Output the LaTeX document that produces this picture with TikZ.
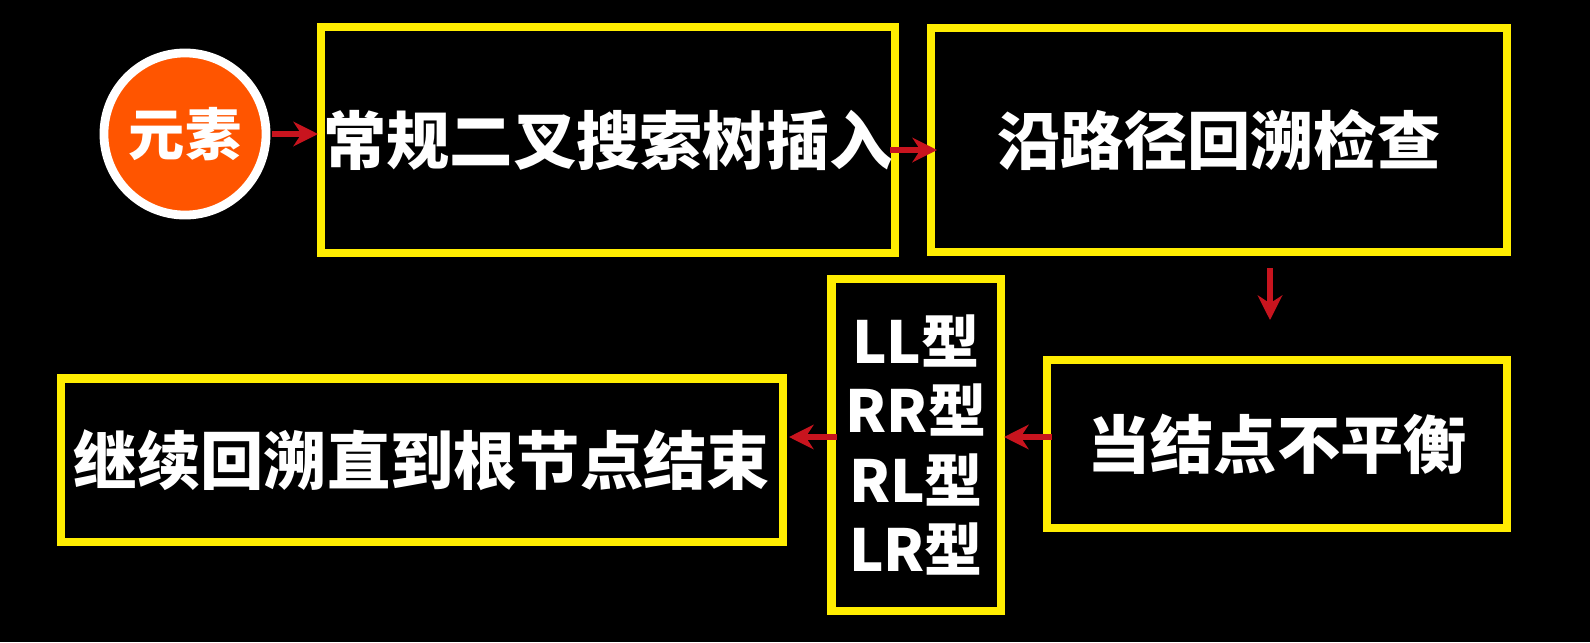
\documentclass[tikz,border=0pt]{standalone}
\usepackage{fontspec}
\newfontfamily\cjk{Noto Sans CJK SC}
\usetikzlibrary{arrows.meta}
\begin{document}
\begin{tikzpicture}[x=0.01cm,y=-0.01cm,
  box/.style={draw=yellow!95!orange,line width=2.3pt,fill=black,inner sep=0pt,text=white,font=\cjk\bfseries\fontsize{18}{21}\selectfont},
  arr/.style={draw={rgb,255:red,200;green,20;blue,30},line width=1.6pt,-{Stealth[length=7pt,width=7pt]}}]
\useasboundingbox[fill=black] (0,0) rectangle (1590,642);
\node[circle,draw=white,line width=2.5pt,fill={rgb,255:red,255;green,85;blue,0},minimum size=1.62cm,text=white,font=\cjk\bfseries\fontsize{16}{19}\selectfont] (el) at (185,134) {元素};
\node[box,minimum width=5.73cm,minimum height=2.25cm] (b1) at (608,140) {常规二叉搜索树插入};
\node[box,minimum width=5.75cm,minimum height=2.24cm] (b2) at (1219,140) {沿路径回溯检查};
\node[box,minimum width=4.6cm,minimum height=1.68cm] (b3) at (1277,444) {当结点不平衡};
\node[box,minimum width=1.69cm,minimum height=3.31cm,align=center,font=\cjk\bfseries\fontsize{16.5}{19.8}\selectfont] (b4) at (916,445) {LL型\\RR型\\RL型\\LR型};
\node[box,minimum width=7.21cm,minimum height=1.63cm] (b5) at (422,460) {继续回溯直到根节点结束};
\coordinate (d1) at (1270,268);
\coordinate (d2) at (1270,320);
\draw[arr] (272,134) -- (318,134);
\draw[arr] (890,150) -- (937,150);
\draw[arr] (d1) -- (d2);
\draw[arr] (1052,437) -- (1004,437);
\draw[arr] (837,437) -- (789,437);
\end{tikzpicture}
\end{document}
